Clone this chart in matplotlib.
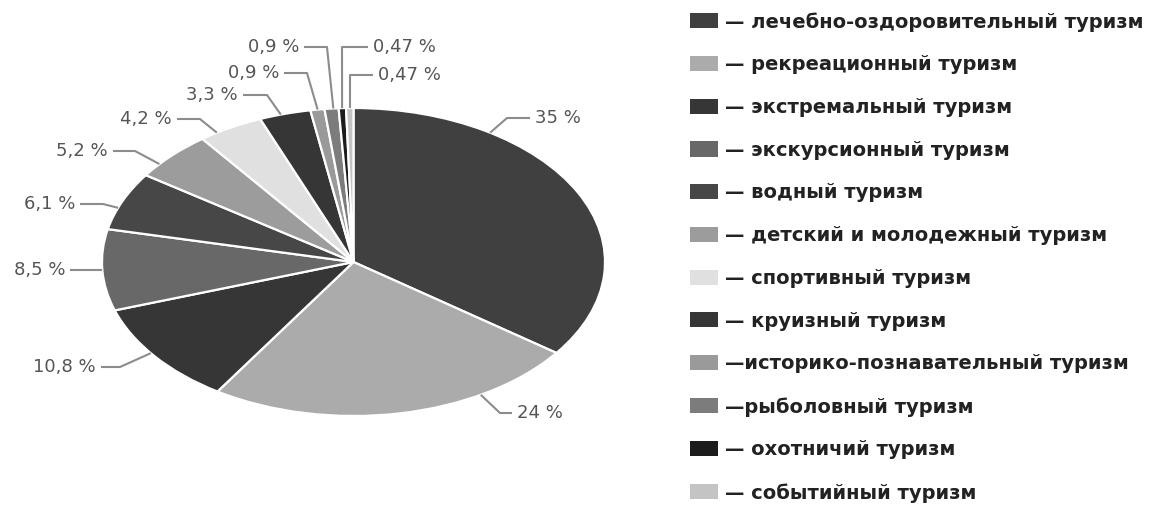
import matplotlib
matplotlib.use("Agg")
import matplotlib.pyplot as plt
from matplotlib.patches import Patch
import numpy as np

# ---------------- data ----------------
categories = [
    "лечебно-оздоровительный туризм",
    "рекреационный туризм",
    "экстремальный туризм",
    "экскурсионный туризм",
    "водный туризм",
    "детский и молодежный туризм",
    "спортивный туризм",
    "круизный туризм",
    "историко-познавательный туризм",
    "рыболовный туризм",
    "охотничий туризм",
    "событийный туризм",
]
values = [35, 24, 10.8, 8.5, 6.1, 5.2, 4.2, 3.3, 0.9, 0.9, 0.47, 0.47]
legend_prefix = ["— ", "— ", "— ", "— ", "— ", "— ", "— ", "— ", "—", "—", "— ", "— "]

# ---------------- style ----------------
colors = ["#404040", "#ababab", "#363636", "#686868", "#474747", "#9c9c9c",
          "#e0e0e0", "#363636", "#9a9a9a", "#7c7c7c", "#1c1c1c", "#c4c4c4"]

W, H = 1157, 505
CX, CY, RX, RY = 353.5, 262.0, 251.5, 154.0   # pie ellipse in pixels


def px(x, y):
    """pixel position -> data coordinates"""
    return (x - CX) / RX, (CY - y) / RY


# label layout: anchor angle on pie edge (deg), elbow pixel, line-end pixel x, side
label_layout = [
    (57.1, (507, 118), 530, "right"),
    (-59.6, (500, 413), 512, "right"),
    (216.3, (120, 367), 101, "left"),
    (183.0, None, 70, "left"),
    (159.4, (103, 204), 80, "left"),
    (140.5, (135, 151), 113, "left"),
    (122.9, (200, 119), 177, "left"),
    (106.8, (267, 95), 243, "left"),
    (98.2, (307, 73), 284, "left"),
    (94.6, (327, 47), 304, "left"),
    (92.6, (342, 47), 368, "right"),
    (90.8, (350, 75), 373, "right"),
]

fig = plt.figure(figsize=(W / 100, H / 100), dpi=100)
ax = fig.add_axes([0, 0, 1, 1])

ax.pie(values, colors=colors, startangle=90, counterclock=False,
       radius=1, center=(0, 0),
       wedgeprops=dict(edgecolor="white", linewidth=1.6))
ax.set_aspect("auto")
ax.set_xlim(px(0, 0)[0], px(W, 0)[0])
ax.set_ylim(px(0, H)[1], px(0, 0)[1])
ax.axis("off")

line_color = "#8c8c8c"
text_color = "#555555"
for v, (ang, elbow, xend, side) in zip(values, label_layout):
    a = np.deg2rad(ang)
    ax_, ay_ = np.cos(a), np.sin(a)
    if elbow is None:
        ex, ey = ax_, ay_
    else:
        ex, ey = px(*elbow)
    endx = px(xend, 0)[0]
    ax.plot([ax_, ex, endx], [ay_, ey, ey], color=line_color, lw=1.5,
            solid_capstyle="butt", clip_on=False)
    lab = f"{v:g}".replace(".", ",") + " %"
    gap = 5 / RX
    if side == "right":
        ax.text(endx + gap, ey, lab, ha="left", va="center", fontsize=13,
                color=text_color, family="DejaVu Sans")
    else:
        ax.text(endx - gap, ey, lab, ha="right", va="center", fontsize=13,
                color=text_color, family="DejaVu Sans")

handles = [Patch(facecolor=c, edgecolor="none") for c in colors]
labels = [p + c for p, c in zip(legend_prefix, categories)]
leg = ax.legend(handles, labels, loc="upper left",
                bbox_to_anchor=(690 / W, 1 - 12 / H), bbox_transform=fig.transFigure,
                frameon=False, borderpad=0, borderaxespad=0,
                handlelength=1.45, handleheight=0.82, handletextpad=0.36,
                labelspacing=1.22,
                prop=dict(family="DejaVu Sans", weight="bold", size=14))
for t in leg.get_texts():
    t.set_color("#222222")

fig.savefig("out.png", dpi=100, facecolor="white")
